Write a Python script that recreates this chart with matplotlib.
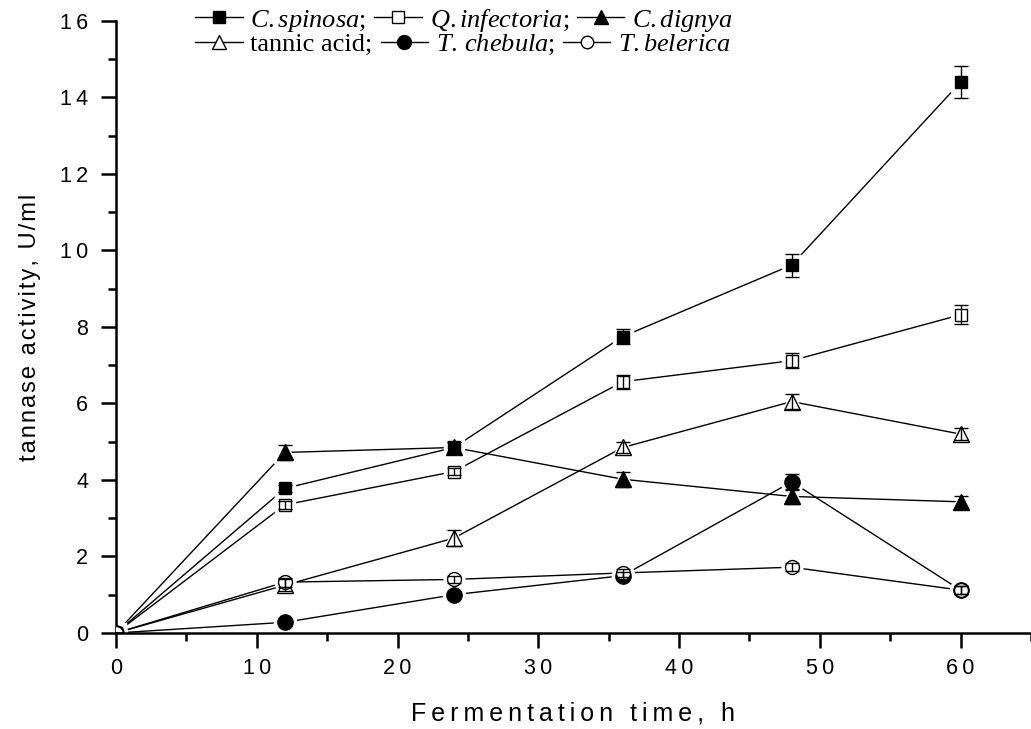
import matplotlib
matplotlib.use("Agg")
import matplotlib.pyplot as plt
from matplotlib.ticker import MultipleLocator, FuncFormatter
from matplotlib.lines import Line2D

plt.rcParams["font.family"] = ["Liberation Sans", "DejaVu Sans"]
plt.rcParams["mathtext.fontset"] = "custom"
plt.rcParams["mathtext.it"] = "Liberation Serif:italic"
plt.rcParams["mathtext.rm"] = "Liberation Serif"

# fermentation time (h)
hours = [0, 12, 24, 36, 48, 60]

# tannase activity (U/ml) per tannin source
c_spinosa = [0, 3.78, 4.85, 7.75, 9.62, 14.4]
q_infectoria = [0, 3.35, 4.22, 6.57, 7.12, 8.32]
c_dignya = [0, 4.72, 4.85, 4.02, 3.57, 3.43]
tannic_acid = [0, 1.25, 2.48, 4.85, 6.05, 5.2]
t_chebula = [0, 0.28, 1.0, 1.5, 3.95, 1.12]
t_belerica = [0, 1.33, 1.4, 1.57, 1.72, 1.12]

# standard deviations
err_spinosa = [0, 0.1, 0.15, 0.2, 0.3, 0.42]
err_infectoria = [0, 0.1, 0.1, 0.18, 0.2, 0.25]
err_dignya = [0, 0.2, 0.15, 0.2, 0.2, 0.15]
err_tannic = [0, 0.15, 0.2, 0.15, 0.2, 0.15]
err_chebula = [0, 0.05, 0.05, 0.1, 0.2, 0.1]
err_belerica = [0, 0.12, 0.1, 0.1, 0.1, 0.1]

series = [
    (c_spinosa, err_spinosa, "s", "black", 9),
    (q_infectoria, err_infectoria, "s", "white", 9),
    (c_dignya, err_dignya, "^", "black", 11),
    (tannic_acid, err_tannic, "^", "white", 11),
    (t_chebula, err_chebula, "o", "black", 11),
    (t_belerica, err_belerica, "o", "white", 10),
]

THIN = "\u2009"
HAIR = "\u200a"


def spaced(s, sep=THIN):
    # widen the letter spacing
    return sep.join(s)


fig = plt.figure(figsize=(10.31, 7.29), dpi=100)
ax = fig.add_axes([0.1125, 0.1317, 0.8875, 0.8395])

for vals, errs, mk, face, ms in series:
    ax.plot(hours, vals, color="black", lw=1.0, zorder=1)
    # white halo so connecting lines stop short of the symbols
    ax.plot(hours, vals, ls="none", marker=mk, ms=ms + 5, mfc="white",
            mec="white", zorder=2)
    ax.plot(hours, vals, ls="none", marker=mk, ms=ms, mfc=face,
            mec="black", mew=1.0, zorder=3)
    ax.errorbar(hours, vals, yerr=errs, fmt="none", ecolor="black",
                elinewidth=1.0, capsize=5, capthick=1.0, zorder=4)

ax.set_xlim(0, 65)
ax.set_ylim(0, 16)
ax.xaxis.set_major_locator(MultipleLocator(10))
ax.xaxis.set_minor_locator(MultipleLocator(5))
ax.yaxis.set_major_locator(MultipleLocator(2))
ax.yaxis.set_minor_locator(MultipleLocator(1))
ax.xaxis.set_major_formatter(FuncFormatter(lambda v, p: spaced(f"{v:.0f}")))
ax.yaxis.set_major_formatter(FuncFormatter(lambda v, p: spaced(f"{v:.0f}")))
for side in ("top", "right"):
    ax.spines[side].set_visible(False)
for side in ("left", "bottom"):
    ax.spines[side].set_linewidth(1.8)
ax.tick_params(which="major", direction="out", length=11, width=1.8,
               labelsize=15.5)
ax.tick_params(axis="y", which="major", pad=9)
ax.tick_params(axis="x", which="major", pad=7)
ax.tick_params(which="minor", direction="out", length=6, width=1.8)

ax.set_xlabel(spaced("Fermentation time, h"), fontsize=18, labelpad=16)
ax.set_ylabel(spaced("tannase activity, U/ml", HAIR), fontsize=17, labelpad=14)


def handle(mk, face, ms):
    return Line2D([], [], color="black", lw=1.0, marker=mk, ms=ms,
                  mfc=face, mec="black")


row1 = [handle("s", "black", 9), handle("s", "white", 9), handle("^", "black", 10)]
labels1 = [r"$\mathit{C.spinosa}$;", r"$\mathit{Q.infectoria}$;", r"$\mathit{C.dignya}$"]
row2 = [handle("^", "white", 10), handle("o", "black", 10), handle("o", "white", 9)]
labels2 = ["tannic acid;", r"$\mathit{T.\,chebula}$;", r"$\mathit{T.belerica}$"]

leg_kw = dict(ncol=3, frameon=False, handlelength=1.8, handletextpad=0.3,
              columnspacing=0.3, borderpad=0, borderaxespad=0,
              prop={"family": "Liberation Serif", "size": 19})
leg1 = fig.legend(row1, labels1, loc="center left",
                  bbox_to_anchor=(195 / 1031, 1 - 20 / 729), **leg_kw)
leg2 = fig.legend(row2, labels2, loc="center left",
                  bbox_to_anchor=(195 / 1031, 1 - 45 / 729), **leg_kw)

fig.savefig("out.png", dpi=100)
